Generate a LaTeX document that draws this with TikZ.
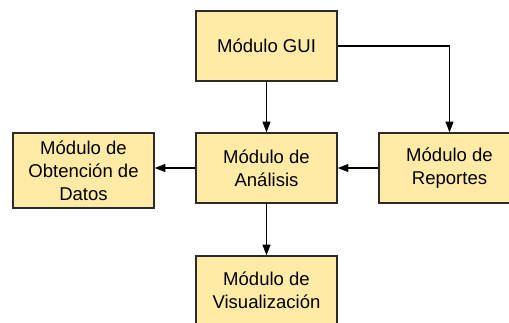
\documentclass[tikz,border=0pt]{standalone}
\usepackage{fontspec}
\setmainfont{Liberation Sans}
\usetikzlibrary{positioning,arrows.meta,calc}
\definecolor{modfill}{HTML}{FFEAA6}
\definecolor{modline}{HTML}{2B2B2B}

\begin{document}
\begin{tikzpicture}[x=0.75pt, y=-0.75pt, >={Triangle[length=8pt, width=6pt]}]
    \tikzset{
        modulo/.style={draw=modline, fill=modfill, line width=1.1pt, align=center,
            minimum width=105.75pt, minimum height=52.5pt, inner sep=0pt,
            font=\fontsize{13.9}{17.3}\selectfont},
        flecha/.style={->, draw=black, line width=1pt}
    }
    % Frame of the picture
    \useasboundingbox (0, 0) rectangle (509, 322);
    \fill[white] (0, 0) rectangle (509, 322);

    % Modules
    \node[modulo] (gui) at (266.5, 46) {Módulo GUI};
    \node[modulo] (analisis) at (266.5, 168) {Módulo de\\Análisis};
    \node[modulo] (reportes) at (449.5, 168) {Módulo de\\Reportes};
    \node[modulo, minimum height=56.25pt] (obtencion) at (83.5, 170.5) {Módulo de\\Obtención de\\Datos};
    \node[modulo, minimum height=51pt] (visual) at (266.5, 290) {Módulo de\\Visualización};

    % Connectors
    \draw[flecha] (gui) -- (analisis);
    \draw[flecha] (gui.east) -| (reportes.north);
    \draw[flecha] (reportes.west) -- (analisis.east);
    \draw[flecha] (analisis.west) -- (analisis.west -| obtencion.east);
    \draw[flecha] (analisis) -- (visual);
\end{tikzpicture}
\end{document}
